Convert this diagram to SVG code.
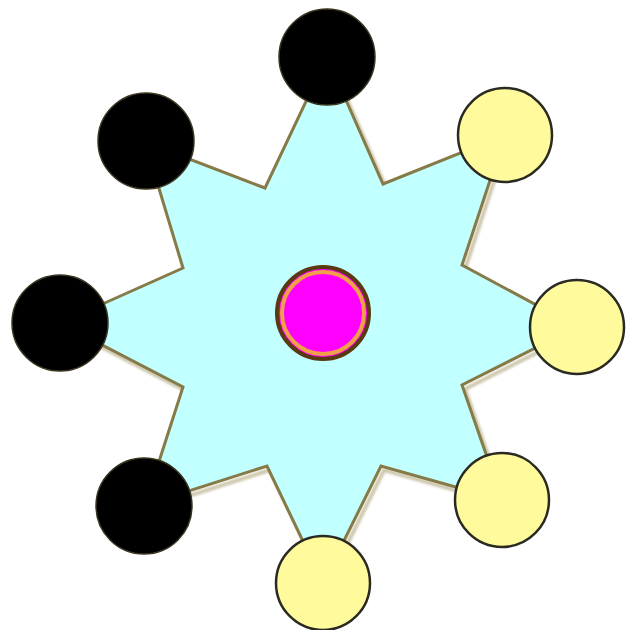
<svg xmlns="http://www.w3.org/2000/svg" width="634" height="630" viewBox="0 0 634 630">
  <defs>
    <style>
      .star { fill: #c2ffff; stroke: #857a48; stroke-width: 3; stroke-linejoin: miter; }
      .shadow { fill: none; stroke: #bdb592; stroke-width: 4; opacity: 0.75; }
      .dark { fill: #000000; stroke: #3a3420; stroke-width: 1.5; }
      .light { fill: #fffb9c; stroke: #2a2a22; stroke-width: 2.5; }
    </style>
    <filter id="blur" x="-10%" y="-10%" width="120%" height="120%">
      <feGaussianBlur stdDeviation="1.2"/>
    </filter>
  </defs>
  <rect width="634" height="630" fill="#ffffff"/>
  <g id="star">
    <polygon class="shadow" filter="url(#blur)" transform="translate(3,4)" points="327,57 383,184 505,135 462,265 577,327 462,385 502,500 381,466 323,583 267,466 145,505 183,387 60,323 183,268 145,142 265,188"/>
    <polygon class="star" points="327,57 383,184 505,135 462,265 577,327 462,385 502,500 381,466 323,583 267,466 145,505 183,387 60,323 183,268 145,142 265,188"/>
  </g>
  <g id="connectors"></g>
  <g id="center">
    <circle cx="323" cy="313" r="46" fill="#ff00ff" stroke="#5a3810" stroke-width="4"/>
    <circle cx="323" cy="313" r="41" fill="none" stroke="#f0a048" stroke-width="4"/>
  </g>
  <g id="n-top"><circle class="dark" cx="327" cy="57" r="48"/></g>
  <g id="n-topleft"><circle class="dark" cx="146" cy="141" r="48"/></g>
  <g id="n-left"><circle class="dark" cx="60" cy="323" r="48"/></g>
  <g id="n-bottomleft"><circle class="dark" cx="144" cy="506" r="48"/></g>
  <g id="n-bottom"><circle class="light" cx="323" cy="583" r="47"/></g>
  <g id="n-bottomright"><circle class="light" cx="502" cy="500" r="47"/></g>
  <g id="n-right"><circle class="light" cx="577" cy="327" r="47"/></g>
  <g id="n-topright"><circle class="light" cx="505" cy="135" r="47"/></g>
</svg>
